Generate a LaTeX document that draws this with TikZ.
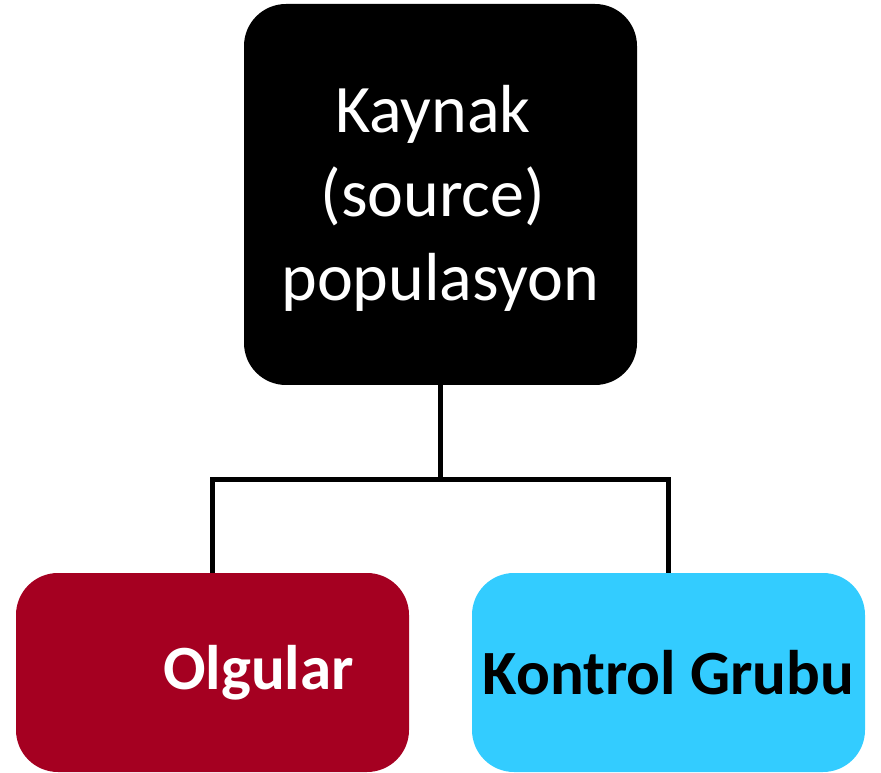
\documentclass[tikz,border=0pt]{standalone}
\usepackage{fontspec}
\setmainfont{Carlito}

\definecolor{casered}{HTML}{A50021}
\definecolor{ctrlcyan}{HTML}{33CCFF}

\tikzset{
  box/.style={rectangle, rounded corners=42pt, minimum width=393pt, inner sep=0pt, outer sep=0pt},
  topbox/.style={box, fill=black, minimum height=381pt},
  groupbox/.style={box, minimum height=199pt, font=\fontsize{63}{76}\selectfont\bfseries},
  toptext/.style={text=white, align=center, inner sep=0pt, font=\fontsize{68}{84}\selectfont},
  link/.style={draw=black, line width=5pt}
}

\begin{document}
\begin{tikzpicture}[x=1pt, y=1pt]
  \useasboundingbox (0,0) rectangle (881,772);

  % source population
  \node[topbox] (src) at (440.5,577.5) {};
  \node[toptext, anchor=base] (srctext) at (440.5,471)
    {Kaynak\rule{0.226em}{0pt}\\(source)\rule{0.226em}{0pt}\\populasyon};

  % the two groups drawn from it
  \node[groupbox, fill=casered, text=white] (case) at (212.5,99.5) {\hspace*{92pt}Olgular};
  \node[groupbox, fill=ctrlcyan, text=black] (ctrl) at (668.5,99.5) {Kontrol Grubu};

  % tree connectors
  \coordinate (mid) at (440.5,292);
  \draw[link] (src.south) -- (mid);
  \draw[link] (case.north) |- (mid) -| (ctrl.north);
\end{tikzpicture}
\end{document}
